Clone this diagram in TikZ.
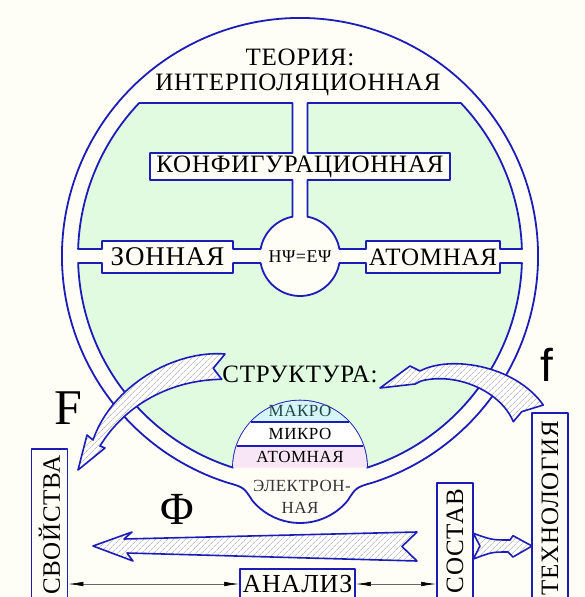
\documentclass[tikz,border=0pt]{standalone}
\usepackage{fontspec}
\setmainfont{Liberation Serif}[LetterSpace=3]
\newfontfamily\sansf{Liberation Sans}
\usepackage{tikz}
\usetikzlibrary{arrows.meta, patterns.meta, positioning}
\definecolor{creambg}{RGB}{255,254,246}
\definecolor{ringblue}{RGB}{28,28,185}
\definecolor{theorygreen}{RGB}{224,251,224}
\definecolor{makrocyan}{RGB}{214,245,246}
\definecolor{atompink}{RGB}{248,230,246}
\definecolor{makrotext}{RGB}{30,70,70}

\begin{document}
\begin{tikzpicture}[x=1pt, y=-1pt,
    outline/.style={draw=ringblue, line width=1.8pt, line join=round},
    region/.style={outline, fill=theorygreen},
    hatched/.style={draw=ringblue, line width=1.6pt, line join=round, preaction={fill=white},
                    pattern={Lines[angle=45, distance=4pt, line width=0.5pt]}, pattern color=gray!75},
    bigtxt/.style={font=\fontsize{25}{28}\selectfont, inner sep=0pt},
    smalltxt/.style={font=\fontsize{17}{19}\selectfont, inner sep=0pt},
    vbox/.style={outline, fill=creambg, rotate=90, font=\fontsize{25}{28}\selectfont,
                 inner sep=0pt, minimum height=36pt},
    thinarrow/.style={draw=gray!80!black, line width=0.6pt,
                      {Latex[length=15pt, width=4.5pt, color=black]}-{Latex[length=15pt, width=4.5pt, color=black]}}
]
    \useasboundingbox (0,0) rectangle (585,597);
    \clip (0,0) rectangle (585,597);
    \fill[creambg] (0,0) rectangle (585,597);

    % outer ring with the bulge at the bottom
    \draw[outline] (226.45,482.35) arc[start angle=108, end angle=432, radius=238]
        .. controls (356.15,487.28) .. (347.5,500.85)
        arc[start angle=40, end angle=140, radius=62]
        .. controls (243.85,487.28) .. (226.45,482.35) -- cycle;

    % green pieces of the theory field
    \draw[region] (139.1,103) -- (292.5,103) -- (292.5,153) -- (150,153) -- (150,180) -- (292.5,180)
        -- (292.5,216.71) arc[start angle=259.19, end angle=190.08, radius=40]
        -- (233,249) -- (233,241) -- (102,241) -- (102,249) -- (78.11,249)
        arc[start angle=181.81, end angle=223.56, radius=222] -- cycle;
    \draw[region] (460.9,103) -- (307.5,103) -- (307.5,153) -- (450,153) -- (450,180) -- (307.5,180)
        -- (307.5,216.71) arc[start angle=-79.19, end angle=-10.08, radius=40]
        -- (366,249) -- (366,241) -- (500,241) -- (500,249) -- (521.89,249)
        arc[start angle=-1.81, end angle=-43.56, radius=222] -- cycle;
    \draw[region] (78.11,263) -- (102,263) -- (102,273) -- (233,273) -- (233,263) -- (260.62,263)
        arc[start angle=169.92, end angle=10.08, radius=40]
        -- (366,263) -- (366,273) -- (500,273) -- (500,263) -- (521.89,263)
        arc[start angle=1.81, end angle=72.43, radius=222]
        arc[start angle=0, end angle=-180, radius=67]
        arc[start angle=107.57, end angle=178.19, radius=222] -- cycle;

    % structure dome
    \begin{scope}
        \clip (233,467.65) arc[start angle=180, end angle=360, radius=67] -- cycle;
        \fill[makrocyan] (225,395) rectangle (375,422);
        \fill[white] (225,422) rectangle (375,446);
        \fill[atompink] (225,446) rectangle (375,468);
    \end{scope}
    \draw[outline] (250.9,422) -- (349.1,422);
    \draw[outline] (236.6,446) -- (363.4,446);

    \node[bigtxt] (teoria) at (300,57) {ТЕОРИЯ:};
    \node[bigtxt] (interp) at (298,85) {ИНТЕРПОЛЯЦИОННАЯ};
    \node[bigtxt] (konfig) at (300,167) {КОНФИГУРАЦИОННАЯ};
    \node[bigtxt, font=\fontsize{27}{28}\selectfont] (zonnaya) at (167.5,257) {ЗОННАЯ};
    \node[bigtxt] (atomnaya) at (433,257) {АТОМНАЯ};
    \node[smalltxt, font=\fontsize{18}{19}\selectfont] (hpsi) at (300,257) {HΨ=EΨ};
    \node[bigtxt] (struktura) at (300,374) {СТРУКТУРА:};
    \node[smalltxt, text=makrotext] (makro) at (300,411) {МАКРО};
    \node[smalltxt] (mikro) at (300,434) {МИКРО};
    \node[smalltxt] (atomn) at (300,457) {АТОМНАЯ};
    \node[smalltxt, text=black!80] (elektron) at (302,486) {ЭЛЕКТРОН-};
    \node[smalltxt, text=black!80] (naya) at (300,508) {НАЯ};

    % boxes along the bottom
    \node[vbox, minimum width=152pt] (svoistva) at (49.5,525) {СВОЙСТВА};
    \node[vbox, minimum width=190pt] (tehnologiya) at (550,508) {ТЕХНОЛОГИЯ};
    \node[vbox, minimum width=116pt] (sostav) at (455,541) {СОСТАВ};
    \node[outline, fill=creambg, font=\fontsize{26}{28}\selectfont, inner sep=0pt,
          minimum width=115pt, minimum height=30pt] (analiz) at (297.5,584) {АНАЛИЗ};

    \draw[thinarrow] (analiz.west) -- (analiz.west -| svoistva.south);
    \draw[thinarrow] (analiz.east) -- (analiz.east -| sostav.north);

    % hatched arrows
    \draw[hatched] (225,354) .. controls (175,350) and (112,385) .. (93,440) -- (87,435) -- (78,470)
        -- (105,448) -- (100,446) .. controls (125,405) and (170,380) .. (221.7,379.3) -- (213.3,368.3) -- cycle;
    \draw[hatched] (543.3,405) .. controls (515,365) and (450,355) .. (420,371) -- (410,366) -- (380,388)
        -- (415,384) -- (421,381) .. controls (455,372) and (500,390) .. (513.3,421.7) -- (521.7,411.7) -- cycle;
    \draw[hatched] (93,546) -- (132,532) -- (124,539) -- (417,532) -- (402,546.5) -- (417,561)
        -- (127,553) -- (133,561) -- cycle;
    \draw[hatched] (473.3,533.3) .. controls (492,540) .. (510,540) -- (513,535.7) -- (532,546)
        -- (513,557) -- (508,552) .. controls (492,552) .. (473.3,559) -- (480,546) -- cycle;

    \node[font=\fontsize{50}{50}\selectfont, inner sep=0pt] (labelF) at (68,408) {F};
    \node[font=\sansf\fontsize{46}{46}\selectfont, inner sep=0pt] (labelf) at (547,365) {f};
    \node[font=\fontsize{46}{46}\selectfont, inner sep=0pt] (labelPhi) at (177,509) {Φ};
\end{tikzpicture}
\end{document}
